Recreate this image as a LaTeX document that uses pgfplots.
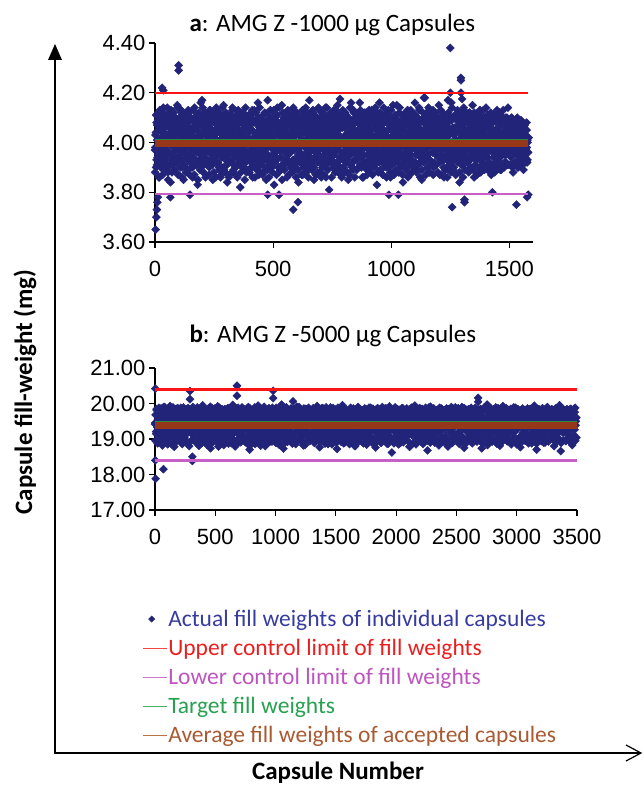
\documentclass[border=0pt]{standalone}
\usepackage{pgfplots}
\pgfplotsset{compat=1.18}
\usepackage{fontspec}
\setmainfont{Carlito}
\newfontfamily\arialf{Liberation Sans}

\definecolor{capblue}{RGB}{34,36,122}
\definecolor{ucl}{RGB}{250,20,20}
\definecolor{lcl}{RGB}{200,95,200}
\definecolor{tgt}{RGB}{40,140,60}
\definecolor{avg}{RGB}{150,55,25}
\definecolor{tblue}{RGB}{55,60,160}
\definecolor{tred}{RGB}{235,30,30}
\definecolor{tpurple}{RGB}{190,85,190}
\definecolor{tgreen}{RGB}{40,160,80}
\definecolor{tbrown}{RGB}{170,90,50}
\definecolor{legred}{RGB}{240,70,70}
\definecolor{legpurple}{RGB}{205,120,205}
\definecolor{leggreen}{RGB}{70,175,105}
\definecolor{legbrown}{RGB}{185,115,70}

\pgfplotsset{
  capsax/.style={
    scale only axis,
    clip=false, clip marker paths=true,
    axis lines*=left,
    axis line style={line width=1.1pt},
    tick align=outside,
    major tick length=6pt,
    tick style={black, line width=1.1pt},
    scaled ticks=false,
    /pgf/number format/assume math mode=true,
    tick label style={font=\arialf\fontsize{22}{22}\selectfont},
    x tick label style={yshift=-10pt, /pgf/number format/1000 sep={}},
    y tick label style={/pgf/number format/fixed, /pgf/number format/fixed zerofill, /pgf/number format/precision=2},
  },
  capdots/.style={only marks, mark=square*, mark size=2.85pt,
    mark options={rotate=45, draw=capblue, fill=capblue}},
  lim/.style={no marks, line width=2.4pt},
  dotleg/.style={legend image code/.code={\path[draw=none] (0pt,0pt) -- (24pt,0pt);
    \draw[##1, mark size=2.2pt] plot coordinates {(9pt,0pt)};}},
  lineleg/.style={legend image code/.code={\draw[line width=1.2pt, draw=#1] (0pt,0pt) -- (24pt,0pt);}},
}

\begin{document}
\begin{tikzpicture}
\useasboundingbox (0,0) rectangle (643pt,-789pt);

% ---- a: 1000 ug capsules
\begin{axis}[capsax, at={(155pt,-242pt)}, anchor=south west, width=378pt, height=199pt,
  xmin=0, xmax=1600, ymin=3.6, ymax=4.4,
  xtick={0,500,1000,1500}, ytick={3.6,3.8,4.0,4.2,4.4}]
\addplot[capdots] table[header=false, row sep=\\, x expr=\coordindex*2.2, y index=0] {
3.97\\4.03\\3.90\\4.08\\4.01\\3.94\\4.12\\3.99\\3.86\\4.05\\3.96\\4.10\\4.02\\3.92\\4.06\\3.98\\4.14\\3.89\\4.04\\3.95\\
4.00\\3.93\\4.09\\3.97\\4.11\\3.88\\4.03\\4.07\\3.95\\4.01\\3.84\\4.13\\3.99\\4.05\\3.91\\4.08\\3.96\\4.02\\3.94\\4.10\\
3.98\\4.06\\3.92\\4.15\\4.00\\3.87\\4.04\\3.97\\4.09\\3.93\\4.02\\4.12\\3.90\\4.07\\3.99\\3.85\\4.05\\3.96\\4.11\\4.01\\
3.94\\4.08\\4.03\\3.89\\4.13\\3.98\\4.06\\3.92\\4.00\\4.10\\3.95\\4.04\\3.86\\4.09\\3.97\\4.02\\4.14\\3.91\\4.07\\3.99\\
4.05\\3.96\\3.83\\4.11\\4.01\\3.93\\4.08\\3.98\\4.16\\3.90\\4.03\\3.95\\4.10\\3.88\\4.06\\4.00\\3.94\\4.12\\3.97\\4.04\\
3.91\\4.07\\3.99\\4.02\\3.87\\4.13\\3.96\\4.09\\3.93\\4.05\\4.00\\3.85\\4.11\\3.98\\4.03\\3.92\\4.08\\3.95\\4.14\\4.01\\
4.06\\3.97\\4.12\\3.90\\4.04\\3.99\\3.86\\4.10\\3.94\\4.07\\4.02\\3.96\\4.15\\3.89\\4.01\\4.09\\3.93\\4.05\\3.98\\3.84\\
4.03\\3.95\\4.08\\4.00\\3.92\\4.11\\3.97\\4.06\\3.88\\4.13\\3.99\\4.04\\3.91\\4.10\\3.96\\4.02\\3.87\\4.07\\4.00\\3.94\\
3.99\\4.10\\3.93\\4.05\\3.82\\4.02\\4.08\\3.96\\4.12\\3.90\\4.04\\3.98\\4.07\\3.94\\4.14\\4.01\\3.88\\4.06\\3.95\\4.09\\
4.02\\3.89\\4.07\\3.97\\4.11\\3.93\\4.00\\4.05\\3.86\\4.09\\3.99\\4.13\\3.92\\4.03\\3.96\\4.08\\3.90\\4.04\\4.16\\3.98\\
3.95\\4.06\\4.01\\3.91\\4.10\\3.98\\4.04\\3.87\\4.08\\4.00\\3.94\\4.12\\3.97\\4.05\\3.85\\4.02\\4.09\\3.93\\4.07\\3.99\\
4.04\\3.92\\4.13\\3.98\\4.06\\3.90\\4.02\\4.09\\3.95\\3.83\\4.11\\4.00\\3.96\\4.07\\3.93\\4.14\\3.99\\4.03\\3.88\\4.05\\
3.97\\4.08\\3.94\\4.01\\4.15\\3.91\\4.06\\3.98\\4.10\\3.89\\4.04\\3.96\\4.12\\4.00\\3.86\\4.07\\3.95\\4.03\\4.09\\3.92\\
4.01\\3.96\\4.10\\3.88\\4.05\\4.02\\3.93\\4.13\\3.97\\4.07\\3.90\\4.04\\3.99\\4.11\\3.94\\4.06\\3.84\\4.08\\3.98\\4.03\\
3.93\\4.09\\3.99\\4.04\\3.87\\4.11\\4.01\\3.95\\4.07\\3.92\\4.14\\3.98\\4.05\\3.90\\4.10\\4.02\\3.96\\4.17\\3.94\\4.06\\
4.08\\3.97\\4.03\\3.91\\4.12\\3.99\\3.85\\4.06\\4.00\\3.94\\4.10\\3.96\\4.04\\3.88\\4.09\\3.95\\4.13\\4.01\\3.92\\4.07\\
3.99\\4.05\\3.90\\4.11\\3.97\\4.03\\4.08\\3.93\\4.14\\3.86\\4.02\\4.06\\3.96\\4.10\\3.98\\3.81\\4.04\\3.94\\4.12\\4.00\\
4.04\\3.92\\4.07\\3.98\\4.13\\3.95\\4.01\\3.89\\4.09\\4.03\\3.97\\4.15\\3.91\\4.05\\3.99\\4.11\\3.93\\4.06\\3.87\\4.02\\
3.96\\4.10\\4.00\\3.94\\4.06\\3.88\\4.12\\4.02\\3.97\\4.08\\3.92\\4.04\\3.85\\4.09\\4.01\\3.95\\4.14\\3.99\\4.05\\3.90\\
4.07\\3.98\\4.13\\3.93\\4.03\\4.09\\3.96\\4.01\\3.89\\4.11\\4.05\\3.94\\4.08\\3.99\\4.16\\3.91\\4.02\\3.97\\4.10\\3.86\\
4.00\\3.95\\4.06\\4.12\\3.92\\4.04\\3.98\\4.10\\3.87\\4.07\\4.01\\3.93\\4.13\\3.96\\4.05\\3.90\\4.09\\4.03\\3.94\\4.11\\
3.98\\4.08\\3.91\\4.02\\4.14\\3.97\\4.05\\3.83\\4.10\\3.99\\4.06\\3.95\\4.01\\4.12\\3.89\\4.04\\3.96\\4.09\\4.00\\3.93\\
4.05\\3.94\\4.11\\3.99\\4.03\\3.90\\4.08\\4.00\\3.96\\4.13\\3.92\\4.07\\3.98\\3.86\\4.10\\4.02\\3.95\\4.06\\4.15\\3.97\\
3.92\\4.04\\3.97\\4.09\\4.01\\4.15\\3.93\\4.06\\3.99\\3.88\\4.12\\4.03\\3.95\\4.08\\3.91\\4.05\\4.00\\3.84\\4.11\\3.98\\
4.09\\3.96\\4.02\\3.90\\4.07\\3.98\\4.13\\3.94\\4.04\\4.10\\3.87\\4.01\\3.97\\4.06\\3.93\\4.12\\3.99\\4.05\\3.91\\4.08\\
4.01\\4.11\\3.95\\4.04\\3.89\\4.07\\4.00\\3.96\\4.14\\3.92\\4.05\\3.98\\4.09\\3.85\\4.03\\3.94\\4.10\\4.02\\3.97\\4.18\\
3.97\\4.06\\3.93\\4.12\\4.00\\3.95\\4.08\\3.88\\4.04\\3.99\\4.11\\3.91\\4.07\\4.02\\3.96\\4.13\\3.90\\4.05\\3.98\\4.03\\
4.03\\3.91\\4.10\\3.98\\4.05\\3.94\\4.15\\4.01\\3.87\\4.08\\3.97\\4.04\\3.93\\4.12\\3.99\\4.06\\3.86\\4.09\\4.00\\3.95\\
3.95\\4.07\\4.02\\3.90\\4.11\\3.99\\4.04\\3.96\\4.09\\3.92\\4.16\\4.00\\3.94\\4.06\\3.89\\4.03\\4.10\\3.97\\4.05\\3.93\\
4.06\\3.98\\4.13\\3.94\\4.01\\4.08\\3.84\\4.04\\3.97\\4.11\\3.95\\4.02\\4.07\\3.91\\4.14\\3.99\\4.05\\3.93\\4.10\\4.00\\
3.99\\4.09\\3.92\\4.05\\3.97\\4.12\\4.00\\3.90\\4.07\\4.03\\3.95\\4.15\\3.98\\4.04\\3.86\\4.10\\3.96\\4.06\\4.01\\3.93\\
4.04\\3.95\\4.08\\4.00\\3.88\\4.11\\3.97\\4.05\\3.93\\4.09\\4.02\\3.96\\4.13\\3.91\\4.06\\3.99\\4.03\\4.14\\3.94\\4.07\\
3.96\\4.10\\4.01\\3.92\\4.06\\3.98\\4.12\\3.87\\4.04\\3.99\\4.08\\3.94\\4.02\\4.11\\3.90\\4.05\\3.97\\4.09\\4.13\\3.95\\
4.02\\3.93\\4.07\\4.11\\3.97\\4.04\\3.89\\4.09\\4.00\\3.95\\4.13\\3.99\\4.06\\3.92\\4.03\\4.10\\3.96\\4.08\\3.98\\4.14\\
3.97\\4.05\\3.91\\4.08\\4.01\\3.94\\4.06\\3.99\\4.03\\3.88\\4.07\\3.96\\4.04\\3.92\\4.09\\4.00\\3.95\\4.06\\3.90\\4.03\\
4.01\\3.93\\4.05\\3.98\\4.07\\3.91\\4.02\\3.96\\4.04\\3.89\\4.06\\3.99\\3.94\\4.03\\3.97\\4.05\\3.92\\4.00\\3.96\\4.02\\
};
\addplot[capdots] table[header=false, row sep=\\, x expr=\coordindex*2.63+1.1, y index=0] {
3.98\\4.04\\3.93\\4.07\\4.01\\3.95\\4.09\\3.99\\3.92\\4.05\\3.97\\4.02\\4.08\\3.94\\4.00\\4.06\\3.91\\4.03\\3.96\\4.10\\
4.02\\3.96\\4.06\\3.91\\4.04\\3.99\\4.08\\3.93\\4.01\\4.10\\3.95\\4.03\\3.97\\4.07\\3.92\\4.05\\3.98\\4.09\\3.94\\4.00\\
3.95\\4.07\\4.00\\3.92\\4.05\\4.09\\3.97\\4.03\\3.90\\4.06\\4.01\\3.94\\4.08\\3.99\\4.04\\3.93\\4.10\\3.96\\4.02\\3.98\\
4.06\\3.94\\4.02\\4.08\\3.97\\4.00\\3.91\\4.05\\4.09\\3.96\\4.03\\3.99\\3.93\\4.07\\4.01\\3.95\\4.04\\3.92\\4.08\\3.97\\
3.99\\4.03\\3.96\\4.10\\3.93\\4.06\\4.02\\3.98\\4.04\\3.91\\4.08\\3.95\\4.05\\4.00\\3.94\\4.09\\3.97\\4.01\\3.92\\4.07\\
4.04\\3.92\\4.08\\3.98\\4.01\\3.95\\4.06\\3.90\\4.03\\4.09\\3.97\\4.00\\3.94\\4.05\\4.11\\3.96\\4.02\\3.93\\4.07\\3.99\\
3.96\\4.05\\4.01\\3.93\\4.09\\3.98\\4.03\\4.07\\3.95\\4.00\\3.91\\4.06\\4.02\\3.97\\4.08\\3.94\\4.04\\3.99\\4.10\\3.92\\
4.03\\3.97\\4.10\\3.94\\4.02\\4.06\\3.92\\4.00\\4.08\\3.96\\4.04\\3.93\\4.07\\3.99\\3.95\\4.05\\4.01\\3.91\\4.09\\3.98\\
3.94\\4.08\\3.99\\4.04\\3.96\\4.02\\4.10\\3.93\\4.06\\4.00\\3.97\\4.09\\3.92\\4.03\\4.07\\3.95\\3.98\\4.05\\4.01\\3.90\\
4.07\\4.00\\3.95\\4.03\\4.09\\3.93\\4.05\\3.98\\4.01\\3.92\\4.06\\4.02\\3.96\\4.10\\3.94\\4.04\\3.99\\4.08\\3.97\\4.03\\
4.00\\3.94\\4.06\\3.99\\4.04\\3.91\\4.08\\4.02\\3.96\\4.05\\3.93\\4.11\\3.98\\4.01\\3.95\\4.07\\3.92\\4.03\\4.09\\3.97\\
3.97\\4.09\\3.93\\4.02\\4.06\\3.98\\4.00\\4.04\\3.92\\4.08\\3.95\\4.03\\4.07\\3.96\\4.01\\3.94\\4.10\\3.99\\4.05\\3.91\\
4.05\\3.98\\4.01\\3.95\\4.08\\4.03\\3.93\\4.06\\3.99\\3.96\\4.10\\3.92\\4.04\\4.00\\3.97\\4.07\\3.94\\4.02\\3.98\\4.09\\
3.93\\4.03\\4.07\\3.97\\4.00\\3.94\\4.05\\4.09\\3.91\\4.02\\4.06\\3.98\\3.95\\4.08\\4.01\\3.96\\4.04\\3.92\\4.07\\4.00\\
4.08\\3.96\\4.02\\4.05\\3.93\\4.10\\3.99\\3.95\\4.06\\4.01\\3.97\\4.04\\3.92\\4.09\\3.98\\4.03\\4.07\\3.94\\4.00\\3.96\\
4.01\\4.06\\3.94\\3.99\\4.09\\3.96\\4.03\\4.00\\3.93\\4.07\\4.02\\3.98\\4.08\\3.95\\4.04\\3.91\\4.06\\4.01\\3.97\\4.05\\
3.96\\4.02\\4.08\\3.93\\4.04\\4.00\\3.97\\4.10\\3.95\\4.03\\3.99\\4.07\\3.94\\4.05\\4.01\\3.92\\4.09\\3.98\\4.03\\4.06\\
4.04\\3.99\\3.95\\4.07\\4.01\\3.93\\4.09\\3.97\\4.05\\3.92\\4.02\\4.08\\3.96\\4.00\\4.06\\3.94\\4.03\\4.10\\3.98\\3.95\\
3.99\\4.07\\4.03\\3.94\\4.06\\3.98\\4.01\\3.92\\4.08\\4.04\\3.96\\4.00\\4.09\\3.93\\4.05\\3.97\\4.02\\3.95\\4.07\\4.01\\
4.06\\3.93\\4.00\\4.04\\3.97\\4.09\\3.95\\4.02\\3.99\\4.07\\3.92\\4.05\\4.01\\3.96\\4.08\\3.98\\4.03\\3.94\\4.06\\3.99\\
3.94\\4.05\\3.98\\4.08\\4.02\\3.96\\4.04\\4.00\\3.93\\4.10\\3.97\\4.03\\3.95\\4.07\\4.01\\3.92\\4.06\\3.99\\4.04\\3.97\\
4.02\\3.97\\4.07\\3.95\\4.03\\4.00\\4.09\\3.94\\4.05\\3.98\\4.01\\3.93\\4.08\\3.96\\4.04\\4.10\\3.95\\4.02\\3.99\\4.06\\
3.98\\4.04\\3.93\\4.06\\3.99\\4.08\\4.01\\3.96\\4.03\\3.92\\4.07\\4.00\\3.95\\4.05\\3.97\\4.09\\4.02\\3.94\\4.06\\4.01\\
4.05\\3.95\\4.02\\3.99\\4.07\\3.93\\4.04\\4.08\\3.97\\4.01\\3.94\\4.06\\3.99\\4.03\\3.92\\4.05\\3.98\\4.09\\4.00\\3.96\\
3.97\\4.03\\4.06\\3.96\\4.01\\4.05\\3.94\\4.00\\4.09\\3.95\\4.04\\3.98\\4.07\\3.93\\4.02\\3.99\\4.06\\3.96\\4.03\\4.08\\
4.03\\3.98\\3.94\\4.05\\4.08\\3.97\\4.02\\3.93\\4.06\\4.00\\3.96\\4.04\\4.01\\3.95\\4.07\\3.99\\3.93\\4.05\\4.02\\3.97\\
4.00\\4.06\\3.97\\4.02\\3.95\\4.04\\3.99\\4.07\\3.94\\4.03\\4.00\\3.96\\4.05\\3.98\\4.02\\3.94\\4.06\\4.00\\3.97\\4.03\\
3.98\\4.03\\4.00\\3.96\\4.05\\3.99\\4.02\\3.95\\4.04\\3.97\\4.01\\4.05\\3.96\\4.02\\3.99\\4.04\\3.97\\4.01\\3.95\\4.03\\
4.02\\3.97\\4.04\\3.99\\3.95\\4.03\\4.00\\4.05\\3.97\\4.01\\3.96\\4.03\\3.98\\4.04\\4.00\\3.96\\4.02\\3.98\\4.04\\3.99\\
3.99\\4.02\\3.96\\4.04\\4.00\\3.97\\4.03\\3.98\\4.01\\3.95\\4.04\\3.99\\4.02\\3.96\\4.03\\4.00\\3.97\\4.02\\3.98\\4.01\\
};
\addplot[capdots] table[header=false, row sep=\\, x expr=\coordindex*3.95+0.6, y index=0] {
3.88\\4.11\\3.91\\4.09\\3.86\\4.13\\3.90\\4.10\\3.87\\4.12\\3.92\\4.08\\3.89\\4.14\\3.85\\4.10\\3.91\\4.12\\3.88\\4.09\\
4.12\\3.89\\4.08\\3.92\\4.14\\3.87\\4.10\\3.90\\4.13\\3.86\\4.09\\3.91\\4.11\\3.88\\4.08\\3.93\\4.12\\3.87\\4.10\\3.90\\
3.90\\4.13\\3.87\\4.09\\3.92\\4.11\\3.85\\4.12\\3.89\\4.08\\3.91\\4.14\\3.88\\4.10\\3.86\\4.11\\3.92\\4.09\\3.90\\4.13\\
4.09\\3.91\\4.12\\3.88\\4.10\\3.86\\4.13\\3.92\\4.08\\3.89\\4.11\\3.87\\4.14\\3.90\\4.09\\3.88\\4.12\\3.91\\4.08\\3.86\\
3.87\\4.10\\3.92\\4.14\\3.89\\4.08\\3.90\\4.11\\3.86\\4.13\\3.91\\4.09\\3.88\\4.12\\3.93\\4.10\\3.85\\4.11\\3.89\\4.08\\
4.11\\3.88\\4.09\\3.90\\4.13\\3.92\\4.08\\3.86\\4.12\\3.89\\4.10\\3.87\\4.14\\3.91\\4.09\\3.88\\4.11\\3.93\\4.08\\3.90\\
3.89\\4.12\\3.86\\4.10\\3.91\\4.08\\3.88\\4.13\\3.92\\4.09\\3.87\\4.11\\3.90\\4.14\\3.89\\4.08\\3.85\\4.12\\3.91\\4.10\\
4.10\\3.92\\4.13\\3.87\\4.09\\3.90\\4.11\\3.88\\4.14\\3.91\\4.08\\3.86\\4.12\\3.89\\4.10\\3.92\\4.09\\3.87\\4.13\\3.90\\
3.91\\4.09\\3.88\\4.12\\3.86\\4.10\\3.93\\4.08\\3.89\\4.13\\3.90\\4.11\\3.87\\4.09\\3.92\\4.14\\3.88\\4.10\\3.86\\4.12\\
4.08\\3.87\\4.11\\3.91\\4.14\\3.89\\4.09\\3.92\\4.10\\3.86\\4.12\\3.90\\4.08\\3.88\\4.13\\3.91\\4.11\\3.89\\4.09\\3.87\\
3.86\\4.13\\3.90\\4.08\\3.92\\4.11\\3.88\\4.10\\3.87\\4.14\\3.91\\4.09\\3.89\\4.12\\3.86\\4.10\\3.93\\4.08\\3.90\\4.11\\
4.13\\3.90\\4.10\\3.86\\4.08\\3.91\\4.12\\3.89\\4.09\\3.92\\4.11\\3.88\\4.13\\3.87\\4.10\\3.90\\4.08\\3.92\\4.12\\3.88\\
3.92\\4.08\\3.89\\4.11\\3.87\\4.14\\3.91\\4.09\\3.86\\4.12\\3.90\\4.10\\3.88\\4.13\\3.91\\4.09\\3.87\\4.11\\3.89\\4.08\\
4.09\\3.88\\4.14\\3.90\\4.11\\3.87\\4.08\\3.92\\4.12\\3.89\\4.10\\3.86\\4.09\\3.91\\4.13\\3.88\\4.10\\3.90\\4.08\\3.92\\
3.88\\4.10\\3.91\\4.13\\3.86\\4.09\\3.89\\4.12\\3.92\\4.08\\3.87\\4.11\\3.90\\4.14\\3.88\\4.09\\3.91\\4.12\\3.87\\4.10\\
4.12\\3.91\\4.08\\3.88\\4.10\\3.92\\4.13\\3.87\\4.09\\3.90\\4.11\\3.89\\4.08\\3.86\\4.12\\3.91\\4.09\\3.88\\4.14\\3.90\\
3.90\\4.11\\3.87\\4.09\\3.92\\4.12\\3.88\\4.10\\3.91\\4.08\\3.86\\4.13\\3.89\\4.11\\3.92\\4.09\\3.88\\4.12\\3.90\\4.08\\
4.10\\3.89\\4.12\\3.91\\4.08\\3.87\\4.11\\3.90\\4.13\\3.88\\4.09\\3.92\\4.10\\3.89\\4.08\\3.91\\4.11\\3.90\\4.09\\3.88\\
3.89\\4.09\\3.91\\4.11\\3.88\\4.10\\3.92\\4.08\\3.90\\4.12\\3.89\\4.09\\3.91\\4.10\\3.90\\4.08\\3.92\\4.10\\3.91\\4.09\\
4.08\\3.91\\4.10\\3.90\\4.09\\3.92\\4.08\\3.91\\4.10\\3.90\\4.07\\3.92\\4.09\\3.91\\4.08\\3.93\\4.07\\3.92\\4.08\\3.93\\
};
\addplot[capdots] coordinates {
(3,3.65) (6,3.70) (8,3.73) (10,3.76) (12,3.78) (30,4.22) (35,4.21) (100,4.31) (100,4.29)
(1250,4.38) (1295,4.26) (1295,4.25) (1295,4.20) (1300,4.175) (1250,4.20)
(585,3.73) (605,3.76) (1258,3.74) (1310,3.77) (1310,3.76) (1530,3.75) (1575,3.78) (1580,3.79)
(65,3.78) (148,3.79) (477,3.79) (525,3.79) (990,3.79) (1030,3.79) (1428,3.80)
(199,4.17) (477,4.17) (783,4.175) (830,4.16) (1138,4.18) (950,4.16) (1240,4.17) (1100,4.16)
};
\addplot[lim, ucl] coordinates {(0,4.2) (1580,4.2)};
\addplot[lim, lcl, line width=2.8pt] coordinates {(0,3.793) (1580,3.793)};
\addplot[lim, tgt, line width=2.2pt] coordinates {(0,4.01) (1580,4.01)};
\addplot[lim, avg, line width=6.5pt] coordinates {(0,3.996) (1580,3.996)};
\end{axis}

% ---- b: 5000 ug capsules
\begin{axis}[capsax, at={(155pt,-510pt)}, anchor=south west, width=422pt, height=142pt,
  xmin=0, xmax=3500, ymin=17, ymax=21,
  xtick={0,500,...,3500}, ytick={17,18,19,20,21},
  legend cell align=left,
  legend style={at={(axis description cs:-0.031,-0.690)}, anchor=north west, draw=none, fill=none,
    font=\fontsize{23.5}{23.5}\selectfont, row sep=7.3pt, inner sep=0pt,
    nodes={inner xsep=1pt, inner ysep=2pt}}]
\addplot[capdots, dotleg]
 table[header=false, row sep=\\, x expr=\coordindex*5, y index=0] {
19.42\\19.68\\19.15\\19.81\\19.33\\19.55\\18.92\\19.74\\19.48\\19.21\\19.86\\19.37\\19.03\\19.62\\19.45\\19.27\\19.90\\19.12\\19.58\\19.39\\
19.51\\18.85\\19.70\\19.29\\19.44\\19.93\\19.08\\19.63\\19.36\\19.77\\19.18\\19.53\\18.78\\19.66\\19.41\\19.85\\19.24\\19.47\\19.01\\19.72\\
19.35\\19.59\\19.16\\19.88\\19.43\\18.96\\19.65\\19.30\\19.79\\19.49\\19.10\\19.56\\19.38\\19.83\\18.88\\19.61\\19.26\\19.71\\19.45\\19.19\\
19.57\\19.22\\19.84\\19.40\\18.99\\19.67\\19.32\\19.75\\19.50\\19.06\\19.89\\19.28\\19.60\\18.81\\19.46\\19.73\\19.14\\19.54\\19.37\\19.95\\
19.25\\19.64\\19.44\\18.90\\19.78\\19.34\\19.58\\19.11\\19.82\\19.47\\19.20\\19.69\\18.74\\19.52\\19.39\\19.87\\19.05\\19.63\\19.31\\19.76\\
19.48\\19.13\\19.71\\19.36\\19.92\\19.23\\19.55\\18.94\\19.66\\19.41\\19.80\\19.17\\19.59\\19.29\\18.83\\19.74\\19.45\\19.02\\19.68\\19.33\\
19.60\\19.27\\18.87\\19.83\\19.43\\19.70\\19.09\\19.52\\19.35\\19.96\\19.21\\19.62\\19.40\\18.79\\19.77\\19.30\\19.57\\19.15\\19.88\\19.46\\
19.37\\19.75\\19.19\\19.54\\19.00\\19.67\\19.42\\19.85\\19.26\\19.49\\18.91\\19.72\\19.33\\19.61\\19.12\\19.90\\19.44\\18.70\\19.65\\19.38\\
19.53\\19.08\\19.80\\19.31\\19.64\\19.46\\18.86\\19.73\\19.20\\19.57\\19.39\\19.94\\19.14\\19.66\\19.28\\19.51\\18.97\\19.79\\19.43\\19.24\\
19.69\\19.34\\19.56\\18.80\\19.82\\19.40\\19.16\\19.63\\19.48\\19.87\\19.04\\19.58\\19.32\\19.75\\18.93\\19.45\\19.70\\19.22\\19.60\\19.36\\
19.41\\19.88\\19.10\\19.52\\19.29\\19.71\\18.84\\19.64\\19.45\\19.18\\19.97\\19.37\\19.55\\18.73\\19.68\\19.30\\19.81\\19.25\\19.49\\19.06\\
19.62\\19.26\\19.78\\19.43\\18.95\\19.59\\19.35\\19.84\\19.13\\19.50\\19.72\\18.89\\19.66\\19.40\\19.21\\19.91\\19.47\\19.03\\19.57\\19.33\\
19.28\\19.67\\19.44\\19.07\\19.76\\19.53\\18.82\\19.61\\19.38\\19.85\\19.19\\19.55\\19.31\\19.73\\18.98\\19.46\\19.64\\19.12\\19.80\\19.42\\
19.50\\19.14\\19.83\\19.36\\19.58\\18.90\\19.70\\19.27\\19.47\\19.93\\19.09\\19.62\\19.39\\18.77\\19.74\\19.32\\19.56\\19.20\\19.87\\19.44\\
19.35\\19.72\\19.23\\19.60\\19.05\\19.79\\19.41\\18.86\\19.66\\19.49\\19.17\\19.89\\19.30\\19.54\\18.94\\19.69\\19.43\\19.82\\19.11\\19.57\\
19.64\\19.29\\18.72\\19.77\\19.45\\19.61\\19.08\\19.84\\19.37\\19.52\\19.22\\19.95\\19.40\\18.88\\19.71\\19.33\\19.59\\19.15\\19.75\\19.47\\
19.39\\19.81\\19.18\\19.55\\19.31\\19.68\\18.99\\19.62\\19.44\\19.86\\19.10\\19.50\\18.80\\19.73\\19.36\\19.58\\19.25\\19.90\\19.48\\19.02\\
19.57\\19.21\\19.74\\19.42\\18.92\\19.66\\19.34\\19.80\\19.13\\19.53\\19.70\\18.84\\19.63\\19.40\\19.19\\19.88\\19.46\\19.06\\19.60\\19.30\\
19.26\\19.65\\19.47\\19.01\\19.78\\19.51\\18.76\\19.69\\19.38\\19.83\\19.16\\19.56\\19.32\\19.75\\18.96\\19.44\\19.62\\19.09\\19.85\\19.41\\
19.52\\19.12\\19.86\\19.35\\19.59\\18.87\\19.72\\19.28\\19.48\\19.92\\19.07\\19.64\\19.37\\18.62\\19.76\\19.31\\19.55\\19.23\\19.81\\19.45\\
19.33\\19.70\\19.20\\19.63\\19.04\\19.82\\19.43\\18.89\\19.67\\19.50\\19.15\\19.87\\19.29\\19.57\\18.97\\19.71\\19.40\\19.79\\19.10\\19.54\\
19.61\\19.27\\18.78\\19.74\\19.46\\19.58\\19.11\\19.85\\19.36\\19.53\\19.24\\19.94\\19.42\\18.85\\19.69\\19.34\\19.60\\19.17\\19.77\\19.49\\
19.40\\19.84\\19.16\\19.52\\19.30\\19.67\\18.95\\19.65\\19.45\\19.88\\19.08\\19.56\\18.68\\19.72\\19.38\\19.59\\19.22\\19.91\\19.47\\19.03\\
19.55\\19.19\\19.76\\19.41\\18.90\\19.68\\19.32\\19.81\\19.14\\19.50\\19.73\\18.82\\19.62\\19.39\\19.20\\19.86\\19.44\\19.05\\19.58\\19.28\\
19.30\\19.66\\19.48\\19.02\\19.80\\19.53\\18.79\\19.70\\19.37\\19.84\\19.18\\19.57\\19.34\\19.77\\18.93\\19.46\\19.63\\19.11\\19.89\\19.43\\
19.51\\19.13\\19.83\\19.36\\19.60\\18.86\\19.74\\19.27\\19.49\\19.90\\19.06\\19.65\\19.40\\18.75\\19.75\\19.29\\19.56\\19.21\\19.82\\19.44\\
19.34\\19.71\\19.24\\19.62\\19.03\\19.78\\19.42\\18.91\\19.68\\19.52\\19.14\\19.88\\19.31\\19.58\\18.99\\19.70\\19.41\\19.80\\19.12\\19.55\\
19.63\\19.26\\18.74\\19.79\\19.47\\19.59\\19.09\\19.86\\19.35\\19.54\\19.23\\19.97\\19.43\\18.87\\19.72\\19.32\\19.61\\19.16\\19.76\\19.48\\
19.38\\19.82\\19.19\\19.56\\19.29\\19.69\\18.97\\19.64\\19.46\\19.87\\19.07\\19.51\\18.81\\19.74\\19.37\\19.60\\19.25\\19.93\\19.49\\19.01\\
19.58\\19.20\\19.75\\19.44\\18.94\\19.67\\19.33\\19.82\\19.15\\19.52\\19.71\\18.85\\19.64\\19.39\\19.18\\19.89\\19.45\\19.04\\19.61\\19.31\\
19.27\\19.66\\19.46\\18.98\\19.79\\19.52\\18.77\\19.70\\19.39\\19.84\\19.17\\19.57\\19.33\\19.76\\18.95\\19.45\\19.63\\19.10\\19.86\\19.42\\
19.53\\19.11\\19.85\\19.37\\19.58\\18.88\\19.73\\19.29\\19.48\\19.94\\19.08\\19.65\\19.38\\18.70\\19.77\\19.32\\19.57\\19.22\\19.83\\19.46\\
19.32\\19.72\\19.21\\19.64\\19.05\\19.81\\19.44\\18.90\\19.66\\19.51\\19.16\\19.90\\19.30\\19.58\\18.98\\19.70\\19.42\\19.78\\19.09\\19.53\\
19.62\\19.28\\18.80\\19.76\\19.45\\19.60\\19.12\\19.87\\19.36\\19.55\\19.23\\19.95\\19.41\\18.66\\19.71\\19.34\\19.59\\19.18\\19.74\\19.47\\
19.40\\19.80\\19.17\\19.57\\19.31\\19.68\\18.96\\19.63\\19.44\\19.85\\19.09\\19.52\\18.83\\19.73\\19.35\\19.61\\19.26\\19.88\\19.50\\19.04\\
};
\addlegendentry{\textcolor{tblue}{Actual fill weights of individual capsules}}
\addplot[capdots, forget plot] table[header=false, row sep=\\, x expr=\coordindex*7+2, y index=0] {
19.45\\19.21\\19.66\\19.38\\19.79\\19.12\\19.52\\19.30\\19.71\\19.05\\19.58\\19.42\\19.83\\19.26\\19.63\\19.17\\19.49\\19.75\\19.34\\19.55\\
19.28\\19.61\\19.09\\19.74\\19.40\\19.57\\19.19\\19.81\\19.35\\19.50\\19.02\\19.68\\19.44\\19.25\\19.77\\19.14\\19.59\\19.37\\19.85\\19.47\\
19.62\\19.33\\19.73\\19.16\\19.54\\19.41\\19.07\\19.69\\19.29\\19.80\\19.46\\19.23\\19.64\\19.11\\19.56\\19.39\\19.76\\19.20\\19.51\\19.32\\
19.18\\19.70\\19.43\\19.58\\19.04\\19.65\\19.36\\19.82\\19.27\\19.53\\19.13\\19.72\\19.48\\19.31\\19.60\\19.22\\19.78\\19.40\\19.06\\19.67\\
19.50\\19.24\\19.84\\19.37\\19.61\\19.15\\19.55\\19.43\\19.75\\19.10\\19.66\\19.30\\19.52\\19.19\\19.71\\19.45\\19.28\\19.81\\19.35\\19.57\\
19.33\\19.63\\19.12\\19.76\\19.46\\19.26\\19.69\\19.39\\19.03\\19.58\\19.42\\19.79\\19.21\\19.54\\19.36\\19.73\\19.16\\19.62\\19.49\\19.08\\
19.70\\19.41\\19.55\\19.23\\19.83\\19.34\\19.60\\19.14\\19.47\\19.77\\19.29\\19.51\\19.05\\19.67\\19.38\\19.80\\19.25\\19.56\\19.44\\19.18\\
19.59\\19.27\\19.74\\19.43\\19.09\\19.64\\19.35\\19.86\\19.20\\19.50\\19.69\\19.32\\19.12\\19.57\\19.45\\19.78\\19.24\\19.63\\19.40\\19.53\\
19.37\\19.72\\19.17\\19.55\\19.48\\19.01\\19.66\\19.31\\19.81\\19.42\\19.22\\19.60\\19.36\\19.75\\19.13\\19.52\\19.69\\19.28\\19.46\\19.83\\
19.21\\19.58\\19.44\\19.79\\19.07\\19.65\\19.33\\19.54\\19.25\\19.72\\19.47\\19.16\\19.61\\19.39\\19.84\\19.30\\19.50\\19.11\\19.68\\19.42\\
19.64\\19.34\\19.76\\19.19\\19.52\\19.41\\19.70\\19.04\\19.57\\19.27\\19.80\\19.45\\19.23\\19.62\\19.37\\19.15\\19.74\\19.49\\19.32\\19.59\\
19.26\\19.67\\19.39\\19.82\\19.14\\19.55\\19.46\\19.29\\19.73\\19.08\\19.61\\19.35\\19.51\\19.20\\19.77\\19.43\\19.63\\19.18\\19.56\\19.40\\
19.71\\19.31\\19.58\\19.12\\19.48\\19.79\\19.24\\19.65\\19.38\\19.53\\19.02\\19.69\\19.44\\19.28\\19.75\\19.36\\19.60\\19.22\\19.85\\19.47\\
19.34\\19.62\\19.17\\19.74\\19.42\\19.55\\19.09\\19.68\\19.30\\19.81\\19.45\\19.25\\19.57\\19.13\\19.71\\19.39\\19.50\\19.21\\19.64\\19.33\\
19.56\\19.27\\19.78\\19.41\\19.06\\19.66\\19.37\\19.52\\19.19\\19.73\\19.48\\19.31\\19.83\\19.15\\19.59\\19.44\\19.24\\19.70\\19.38\\19.61\\
19.43\\19.70\\19.23\\19.57\\19.35\\19.80\\19.11\\19.63\\19.47\\19.29\\19.75\\19.40\\19.05\\19.66\\19.32\\19.54\\19.18\\19.77\\19.49\\19.26\\
19.67\\19.36\\19.53\\19.16\\19.82\\19.41\\19.60\\19.28\\19.72\\19.10\\19.56\\19.45\\19.22\\19.69\\19.34\\19.79\\19.46\\19.20\\19.58\\19.39\\
19.30\\19.74\\19.44\\19.61\\19.08\\19.55\\19.37\\19.84\\19.25\\19.50\\19.65\\19.17\\19.42\\19.76\\19.33\\19.62\\19.13\\19.71\\19.48\\19.52\\
19.60\\19.21\\19.68\\19.40\\19.54\\19.03\\19.77\\19.31\\19.46\\19.81\\19.27\\19.58\\19.38\\19.14\\19.73\\19.43\\19.64\\19.24\\19.51\\19.79\\
19.35\\19.63\\19.19\\19.75\\19.47\\19.29\\19.70\\19.42\\19.12\\19.57\\19.36\\19.83\\19.22\\19.55\\19.45\\19.67\\19.07\\19.61\\19.32\\19.50\\
19.73\\19.40\\19.56\\19.26\\19.80\\19.15\\19.62\\19.44\\19.33\\19.69\\19.20\\19.53\\19.78\\19.37\\19.59\\19.10\\19.66\\19.48\\19.28\\19.74\\
19.39\\19.57\\19.31\\19.71\\19.18\\19.64\\19.50\\19.23\\19.82\\19.43\\19.35\\19.61\\19.05\\19.68\\19.46\\19.76\\19.27\\19.54\\19.41\\19.16\\
19.62\\19.30\\19.77\\19.45\\19.52\\19.13\\19.69\\19.36\\19.58\\19.24\\19.80\\19.42\\19.65\\19.19\\19.49\\19.73\\19.34\\19.55\\19.09\\19.67\\
19.46\\19.71\\19.25\\19.60\\19.38\\19.84\\19.21\\19.53\\19.44\\19.68\\19.32\\19.75\\19.14\\19.57\\19.40\\19.63\\19.28\\19.79\\19.50\\19.35\\
19.55\\19.22\\19.66\\19.41\\19.74\\19.30\\19.59\\19.17\\19.48\\19.81\\19.37\\19.62\\19.26\\19.70\\19.43\\19.52\\19.11\\19.76\\19.39\\19.60\\
};
\addplot[capdots, forget plot] table[header=false, row sep=\\, x expr=\coordindex*9.7+3, y index=0] {
18.95\\19.84\\18.88\\19.88\\19.02\\19.81\\18.82\\19.90\\18.98\\19.83\\18.91\\19.86\\19.04\\19.80\\18.85\\19.89\\18.99\\19.82\\18.93\\19.87\\
19.85\\18.97\\19.81\\18.86\\19.89\\19.03\\19.83\\18.92\\19.87\\18.80\\19.82\\18.96\\19.90\\19.01\\19.84\\18.89\\19.86\\18.94\\19.80\\19.05\\
18.90\\19.88\\19.00\\19.82\\18.84\\19.85\\18.97\\19.91\\18.87\\19.81\\19.03\\19.86\\18.93\\19.83\\18.79\\19.88\\19.01\\19.84\\18.95\\19.80\\
19.83\\18.92\\19.87\\19.04\\19.81\\18.88\\19.90\\18.98\\19.84\\18.83\\19.86\\19.00\\19.82\\18.91\\19.89\\18.96\\19.80\\19.02\\19.85\\18.86\\
18.99\\19.86\\18.85\\19.81\\18.94\\19.89\\19.03\\19.83\\18.90\\19.87\\18.81\\19.84\\18.97\\19.91\\19.01\\19.80\\18.88\\19.85\\18.93\\19.82\\
19.88\\19.00\\19.82\\18.89\\19.85\\18.95\\19.80\\19.04\\19.87\\18.84\\19.83\\18.98\\19.89\\18.92\\19.81\\19.02\\19.86\\18.87\\19.84\\18.96\\
18.86\\19.83\\18.97\\19.90\\19.01\\19.82\\18.91\\19.86\\18.83\\19.84\\19.05\\19.88\\18.94\\19.81\\18.99\\19.87\\18.89\\19.83\\19.03\\19.85\\
19.81\\18.93\\19.86\\19.02\\19.84\\18.87\\19.89\\18.96\\19.82\\19.00\\19.80\\18.85\\19.87\\18.98\\19.83\\18.90\\19.88\\19.04\\19.81\\18.92\\
18.98\\19.87\\18.90\\19.83\\19.04\\19.80\\18.86\\19.88\\18.95\\19.85\\18.82\\19.82\\19.01\\19.89\\18.93\\19.84\\18.97\\19.81\\18.88\\19.86\\
19.84\\19.03\\19.80\\18.94\\19.88\\18.99\\19.85\\18.84\\19.82\\18.92\\19.87\\19.00\\19.83\\18.89\\19.90\\18.96\\19.81\\19.02\\19.86\\18.87\\
18.92\\19.85\\19.02\\19.81\\18.88\\19.89\\18.97\\19.84\\18.85\\19.82\\18.99\\19.87\\18.91\\19.80\\19.04\\19.86\\18.94\\19.83\\18.80\\19.88\\
19.86\\18.89\\19.83\\18.98\\19.81\\19.03\\19.87\\18.93\\19.85\\18.86\\19.80\\19.01\\19.84\\18.95\\19.89\\18.90\\19.82\\18.97\\19.86\\19.02\\
18.96\\19.82\\18.87\\19.88\\19.00\\19.84\\18.92\\19.81\\19.04\\19.86\\18.84\\19.83\\18.98\\19.90\\18.89\\19.85\\19.02\\19.80\\18.94\\19.87\\
19.80\\18.99\\19.85\\18.91\\19.87\\18.86\\19.82\\19.03\\19.84\\18.95\\19.88\\18.88\\19.81\\19.01\\19.86\\18.93\\19.83\\18.97\\19.85\\18.90\\
18.89\\19.88\\18.96\\19.84\\18.83\\19.81\\19.02\\19.86\\18.93\\19.83\\18.98\\19.89\\18.87\\19.82\\19.04\\19.85\\18.91\\19.87\\18.99\\19.81\\
19.87\\18.94\\19.81\\19.00\\19.85\\18.90\\19.83\\18.97\\19.88\\18.85\\19.84\\19.03\\19.80\\18.92\\19.86\\18.96\\19.82\\19.01\\19.84\\18.88\\
18.97\\19.84\\18.91\\19.86\\18.99\\19.82\\18.87\\19.85\\19.02\\19.80\\18.94\\19.87\\18.90\\19.83\\18.98\\19.86\\18.93\\19.81\\19.00\\19.84\\
19.82\\18.96\\19.86\\18.92\\19.83\\19.01\\19.80\\18.89\\19.85\\18.97\\19.82\\18.94\\19.84\\19.00\\19.81\\18.91\\19.83\\18.98\\19.85\\18.95\\
};
\addplot[capdots, forget plot] coordinates {
(3,20.42) (5,17.88) (70,18.15) (3,18.40) (310,18.38) (310,18.50) (290,20.35) (290,20.12)
(680,20.50) (680,20.22) (980,20.36) (980,20.15) (1145,20.06) (2680,20.16) (2680,20.05)
};
\addplot[lim, ucl, lineleg=legred] coordinates {(0,20.4) (3500,20.4)};
\addlegendentry{\textcolor{tred}{Upper control limit of fill weights}}
\addplot[lim, lcl, line width=2.8pt, lineleg=legpurple] coordinates {(0,18.4) (3500,18.4)};
\addlegendentry{\textcolor{tpurple}{Lower control limit of fill weights}}
\addplot[lim, tgt, line width=2.2pt, lineleg=leggreen] coordinates {(0,19.47) (3500,19.47)};
\addlegendentry{\textcolor{tgreen}{Target fill weights}}
\addplot[lim, avg, line width=7pt, lineleg=legbrown] coordinates {(0,19.39) (3500,19.39)};
\addlegendentry{\textcolor{tbrown}{Average fill weights of accepted capsules}}
\end{axis}

% ---- titles, frame arrows, axis names
\node[anchor=west, font=\fontsize{25}{25}\selectfont] at (186pt,-25pt) {\textbf{a}: AMG Z -1000 µg Capsules};
\node[anchor=west, font=\fontsize{25}{25}\selectfont] at (186pt,-336pt) {\textbf{b}: AMG Z -5000 µg Capsules};
\draw[line width=1.8pt] (55pt,-753pt) -- (55pt,-58pt);
\fill (55pt,-44pt) -- (48pt,-60pt) -- (62pt,-60pt) -- cycle;
\draw[line width=1.8pt] (54.1pt,-753pt) -- (640pt,-753pt);
\draw[line width=1.2pt] (626pt,-745pt) -- (641pt,-753pt) -- (626pt,-761pt);
\node[rotate=90, font=\bfseries\fontsize{25}{25}\selectfont] at (25pt,-392pt) {Capsule fill-weight (mg)};
\node[font=\bfseries\fontsize{25}{25}\selectfont] at (338pt,-773pt) {Capsule Number};
\end{tikzpicture}
\end{document}
